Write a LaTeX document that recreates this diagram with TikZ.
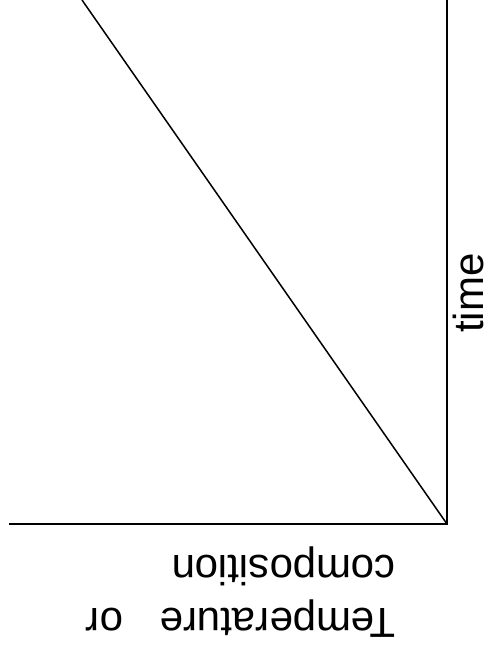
\documentclass[tikz,border=0pt]{standalone}
\usepackage{fontspec}
\setmainfont{Liberation Sans}
\usetikzlibrary{positioning}
\tikzset{
  axis/.style={line width=2pt},
  lbl/.style={inner sep=0pt, font=\fontsize{42}{53}\selectfont},
}
\begin{document}
\begin{tikzpicture}[x=1pt, y=-1pt]
  \useasboundingbox (0,0) rectangle (489,656);
  % axes
  \coordinate (o) at (447,524);
  \coordinate (ytop) at (447,0);
  \coordinate (xend) at (9,524);
  \coordinate (lend) at (82,0);
  \draw[axis] (ytop) -- (o) -- (xend);
  \draw[line width=1.5pt] (o) -- (lend);
  % labels
  \node[lbl, rotate=90, anchor=base] (time) at (483,293) {time};
  \node[lbl, rotate=180, align=left, anchor=north west] (tc) at (396,638) {Temperature\hspace{37pt}or\\composition};
\end{tikzpicture}
\end{document}
